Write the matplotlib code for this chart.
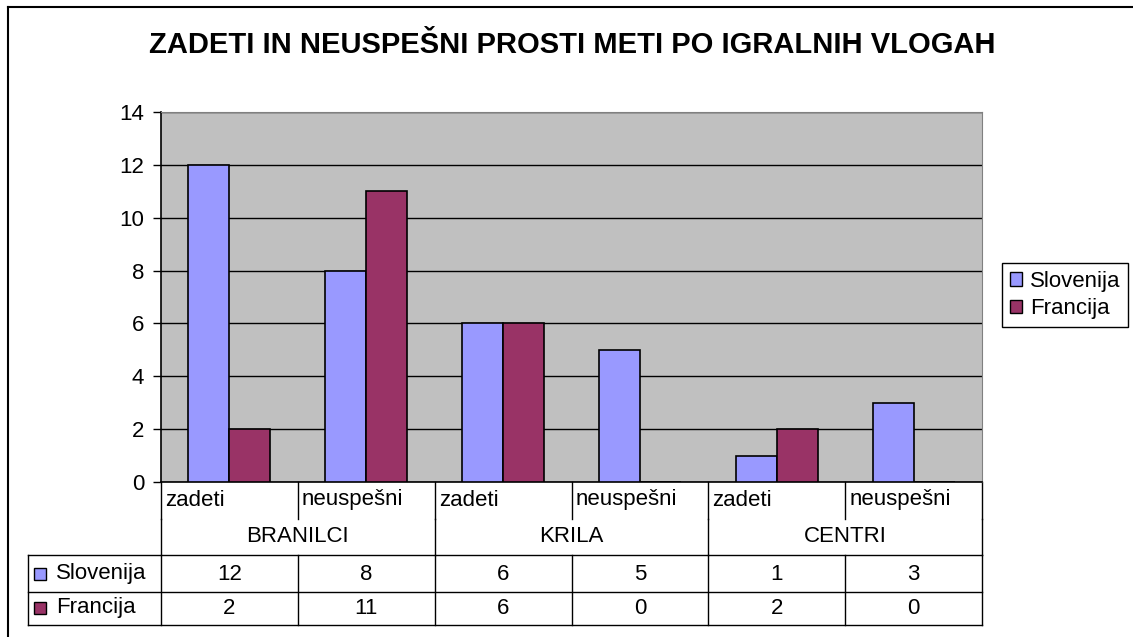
import matplotlib.pyplot as plt
import matplotlib.transforms as mtransforms
from matplotlib.patches import Patch
import numpy as np

plt.rcParams['font.family'] = ['Liberation Sans', 'DejaVu Sans']

# Data
groups = ['BRANILCI', 'KRILA', 'CENTRI']
categories = ['zadeti', 'neuspešni', 'zadeti', 'neuspešni', 'zadeti', 'neuspešni']
series_names = ['Slovenija', 'Francija']
slovenija = [12, 8, 6, 5, 1, 3]
francija = [2, 11, 6, 0, 2, 0]
colors = {'Slovenija': '#9999FF', 'Francija': '#993366'}

W, H = 1133, 637
fig = plt.figure(figsize=(W / 100, H / 100), dpi=100)
fs = 16

# pixel -> figure fraction helpers
def fx(px):
    return px / W

def fy(py):
    return 1 - py / H

# Plot area
ax = fig.add_axes([fx(161), fy(482), fx(982) - fx(161), fy(112) - fy(482)])
ax.set_facecolor('#C0C0C0')

x = np.arange(len(categories))
bar_width = 0.3
ax.bar(x + 0.35, slovenija, bar_width, color=colors['Slovenija'], edgecolor='black', linewidth=1.2, zorder=3)
ax.bar(x + 0.65, francija, bar_width, color=colors['Francija'], edgecolor='black', linewidth=1.2, zorder=3)

ax.set_xlim(0, len(categories))
ax.set_ylim(0, 14)
ax.set_yticks(range(0, 15, 2))
ax.yaxis.grid(True, color='black', linewidth=1)
ax.set_axisbelow(True)
ax.set_xticks([])
ax.tick_params(axis='y', length=6, width=1, labelsize=fs, pad=6)

for side in ['top', 'right']:
    ax.spines[side].set_color('#808080')
ax.spines['left'].set_color('black')
ax.spines['bottom'].set_color('black')
ax.spines['left'].set_linewidth(1.2)
ax.spines['bottom'].set_linewidth(1.2)

# Data table below the axis (x in data units, y in figure fraction)
trans = mtransforms.blended_transform_factory(ax.transData, fig.transFigure)
line_kw = dict(color='black', linewidth=1, clip_on=False)

n = len(categories)
# verticals between categories inside the category row
for i in range(n + 1):
    ax.plot([i, i], [fy(482), fy(519)], transform=trans, **line_kw)
# verticals at group edges through the group row
for i in range(0, n + 1, 2):
    ax.plot([i, i], [fy(519), fy(555)], transform=trans, **line_kw)
# verticals in the value rows
for i in range(n + 1):
    ax.plot([i, i], [fy(555), fy(625)], transform=trans, **line_kw)

# horizontal lines of the value rows
for py in [555, 592, 625]:
    fig.add_artist(plt.Line2D([fx(28), fx(982)], [fy(py), fy(py)], color='black', linewidth=1))
fig.add_artist(plt.Line2D([fx(28), fx(28)], [fy(555), fy(625)], color='black', linewidth=1))

# category labels
for i, cat in enumerate(categories):
    ax.text(i + 0.03, fy(500), cat, transform=trans, ha='left', va='center', fontsize=fs)

# group labels
for g, name in enumerate(groups):
    ax.text(2 * g + 1, fy(537), name, transform=trans, ha='center', va='center', fontsize=fs)

# value rows
row_y = {'Slovenija': 574, 'Francija': 608}
for name, vals in zip(series_names, [slovenija, francija]):
    for i, v in enumerate(vals):
        ax.text(i + 0.5, fy(row_y[name]), str(v), transform=trans, ha='center', va='center', fontsize=fs)
    fig.add_artist(plt.Line2D([fx(40)], [fy(row_y[name])], marker='s', markersize=8,
                              markerfacecolor=colors[name], markeredgecolor='black', markeredgewidth=1))
    fig.text(fx(56), fy(row_y[name]), name, ha='left', va='center', fontsize=fs)

# Legend
handles = [Patch(facecolor=colors[s], edgecolor='black', label=s) for s in series_names]
leg = fig.legend(handles=handles, loc='upper left', bbox_to_anchor=(fx(1002), fy(263)),
                 bbox_transform=fig.transFigure, borderaxespad=0, fontsize=fs,
                 handlelength=0.55, handleheight=0.55, handletextpad=0.35,
                 borderpad=0.35, labelspacing=0.3, fancybox=False, framealpha=1)
leg.get_frame().set_edgecolor('black')
leg.get_frame().set_linewidth(1)

# Title
fig.text(fx(572), fy(45), 'ZADETI IN NEUSPEŠNI PROSTI METI PO IGRALNIH VLOGAH',
         ha='center', va='center', fontsize=21, fontweight='bold')

# Outer chart frame (runs off the right and bottom edge)
fig.add_artist(plt.Line2D([fx(8), fx(8)], [fy(7), 0], color='black', linewidth=1.5))
fig.add_artist(plt.Line2D([fx(8), 1], [fy(7), fy(7)], color='black', linewidth=1.5))

fig.savefig('out.png', dpi=100)
